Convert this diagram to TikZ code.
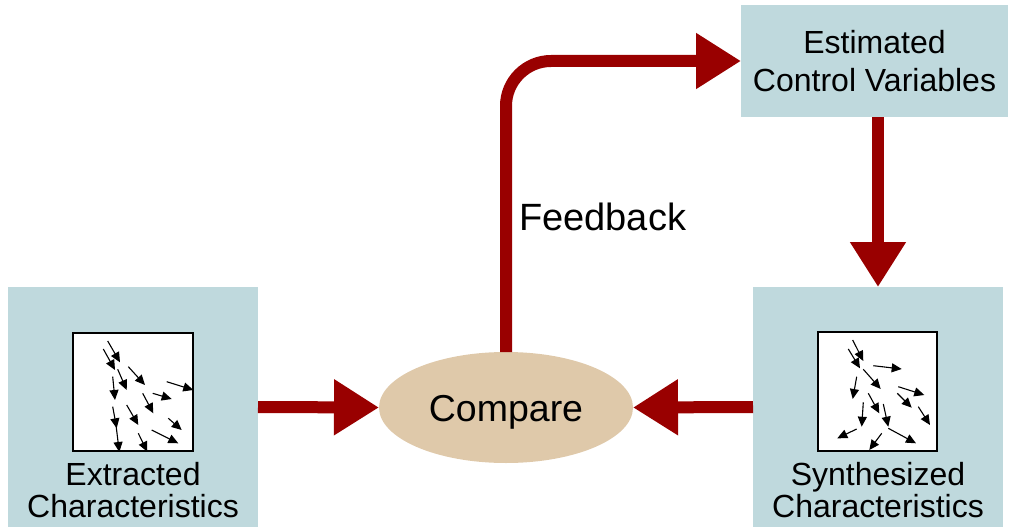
\documentclass[tikz,border=0pt]{standalone}
\usepackage{fontspec}
\setmainfont{Liberation Sans}
\usetikzlibrary{arrows.meta,shapes.geometric}

\definecolor{boxblue}{HTML}{BFD9DD}
\definecolor{tan}{HTML}{DFC9AA}
\definecolor{arrowred}{HTML}{990000}

\tikzset{
  panel/.style={fill=boxblue, draw=none, inner sep=0pt, outer sep=0pt},
  boxtext/.style={font=\fontsize{32}{32}\selectfont, align=center, inner sep=0pt},
  bigarrow/.style={draw=arrowred, line width=12pt, -{Triangle[length=45pt,width=53pt]}},
  field/.style={draw=black, line width=1.3pt, fill=white},
  vec/.style={line width=1.1pt, -{Triangle[length=10pt,width=9pt]}},
}

\begin{document}
\begin{tikzpicture}[x=1pt, y=-1pt]
\useasboundingbox (0,0) rectangle (1010,527);

% side panels and the top box
\node[panel, minimum width=250pt, minimum height=240pt] (ext) at (133,407) {};
\node[panel, minimum width=250pt, minimum height=240pt] (syn) at (878,407) {};
\node[panel, minimum width=267pt, minimum height=112pt] (est) at (874.5,61) {};
\node[boxtext, font=\fontsize{32}{38.5}\selectfont] (estlbl) at (874.5,61) {Estimated\\Control Variables};
\node[boxtext] (extlbl) at (133,490) {Extracted\\Characteristics};
\node[boxtext] (synlbl) at (878,490) {Synthesized\\Characteristics};

% comparison ellipse
\node[ellipse, fill=tan, minimum width=254pt, minimum height=111pt, inner sep=0pt, outer sep=0pt,
      text height=27.5pt, text depth=0pt,
      font=\fontsize{37.5}{40}\selectfont] (cmp) at (506,407.5) {Compare};

% main flow
\draw[bigarrow] (ext.east) -- (cmp.west);
\draw[bigarrow] (syn.west) -- (cmp.east);
\draw[bigarrow] (est.south -| syn.north) -- (syn.north);
\draw[bigarrow, rounded corners=45pt] (cmp.north) |- (est.west);
\node[anchor=base west, inner sep=0pt, font=\fontsize{38}{40}\selectfont] (fb) at (519,230) {Feedback};

% measured field
\node[field, minimum width=120pt, minimum height=118pt, inner sep=0pt] (fieldL) at (133,392) {};
\begin{scope}[vec]
  \draw (107.7,341) -- (120,362.3);
  \draw (103.3,349) -- (115,370);
  \draw (117.7,369.3) -- (126.7,390);
  \draw (128.3,366.7) -- (145,385);
  \draw (112.7,376.7) -- (115,400);
  \draw (166.7,381.7) -- (193.3,390);
  \draw (152.7,393.3) -- (171.7,399);
  \draw (142.7,393.3) -- (153.3,413.3);
  \draw (112.7,406.7) -- (116.7,428.3);
  \draw (126.7,405) -- (138.3,425);
  \draw (168.3,418.3) -- (181.7,430);
  \draw (151.7,430) -- (178.3,443.3);
  \draw (116,425) -- (119.3,452);
  \draw (138.3,433.3) -- (147.3,451.7);
\end{scope}

% synthesized field
\node[field, minimum width=119pt, minimum height=119pt, inner sep=0pt] (fieldR) at (877.5,391.5) {};
\begin{scope}[vec]
  \draw (852.7,340) -- (863.3,361);
  \draw (848.3,349) -- (860,368.3);
  \draw (873.3,365.7) -- (901.7,369);
  \draw (863.3,369.3) -- (880.7,389);
  \draw (856.7,376.7) -- (852.7,399);
  \draw (898.3,386.7) -- (924.3,395);
  \draw (897.3,393.3) -- (911.7,407.7);
  \draw (868.3,393.3) -- (879.3,413.3);
  \draw (883.3,404) -- (888.3,426.7);
  \draw (863.3,402.3) -- (861.7,426.7);
  \draw (918.3,406.7) -- (930,425);
  \draw (856.7,429) -- (837.3,438.3);
  \draw (888.3,428.3) -- (916,443.3);
  \draw (881.7,433.3) -- (869.3,450);
\end{scope}
\end{tikzpicture}
\end{document}
